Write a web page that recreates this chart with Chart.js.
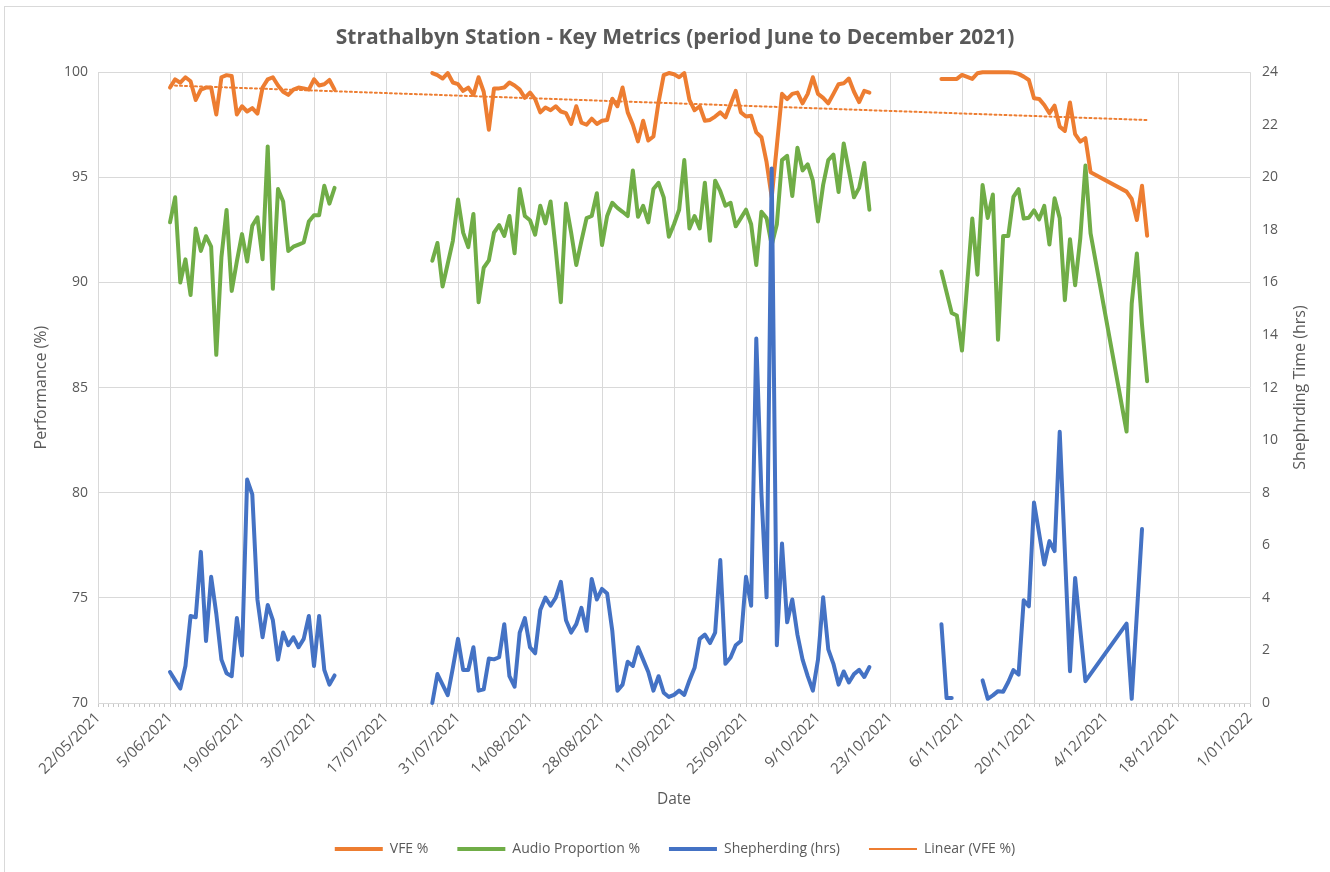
<!DOCTYPE html>
<html>
<head>
<meta charset="utf-8">
<title>Strathalbyn Station - Key Metrics</title>
<script src="https://cdn.jsdelivr.net/npm/chart.js@4.4.1/dist/chart.umd.min.js"></script>
<style>
  html, body { margin: 0; padding: 0; background: #fff; overflow: hidden; }
  #wrap { position: relative; width: 1330px; height: 872px; }
  #frame { position: absolute; left: 4px; top: 6px; width: 1340px; height: 900px;
           border: 1px solid #d9d9d9; pointer-events: none; }
</style>
</head>
<body>
<div id="wrap">
  <canvas id="chart" width="1330" height="872"></canvas>
  <div id="frame"></div>
</div>
<script>
// Strathalbyn Station - key metrics, June to December 2021
// x values are days counted from 22/05/2021 (first axis tick)

const START_UTC = Date.UTC(2021, 4, 22);
const X_MIN = 0;     // 22/05/2021
const X_MAX = 224;   // 1/01/2022
const MAJOR_STEP = 14;

// dates with VFE / audio readings (null rows = blank cells, break the line)
const perfDays = [
  14, 15, 16, 17, 18, 19, 20, 21, 22, 23, 24, 25, 26, 27, 28, 29, 30,
  31, 32, 33, 34, 35, 36, 37, 38, 39, 40, 41, 42, 43, 44, 45, 46,
  55,
  65, 66, 67, 68, 69, 70, 71, 72, 73, 74, 75, 76, 77, 78, 79, 80, 81,
  82, 83, 84, 85, 86, 87, 88, 89, 90, 91, 92, 93, 94, 95, 96, 97, 98,
  99, 100, 101, 102, 103, 104, 105, 106, 107, 108, 109, 110, 111, 112,
  113, 114, 115, 116, 117, 118, 119, 120, 121, 122, 123, 124, 125, 126,
  127, 128, 129, 130, 131, 132, 133, 134, 135, 136, 137, 138, 139, 140,
  141, 142, 143, 144, 145, 146, 147, 148, 149, 150,
  157,
  164, 166, 167, 168, 170, 171, 172, 173, 174, 175, 176, 177, 178, 179,
  180, 181, 182, 183, 184, 185, 186, 187, 188, 189, 190, 191, 192, 193,
  200, 201, 202, 203, 204,
];

const vfePct = [
  99.27, 99.66, 99.5, 99.76, 99.57, 98.68, 99.17, 99.27, 99.27, 97.99, 99.76,
  99.86, 99.82, 97.99, 98.38, 98.13, 98.29, 98.03, 99.27, 99.66, 99.76, 99.37,
  99.07, 98.92, 99.17, 99.27, 99.23, 99.17, 99.66, 99.37, 99.43, 99.63, 99.17,
  null,
  99.96, 99.86, 99.7, 99.96, 99.51, 99.43, 99.11, 99.27, 98.92, 99.76, 99.07,
  97.26, 99.23, 99.23, 99.27, 99.51, 99.37, 99.17, 98.78, 99.03, 98.72, 98.09,
  98.32, 98.19, 98.38, 98.13, 98.05, 97.54, 98.38, 97.6, 97.5, 97.79, 97.54,
  97.69,
  97.73, 98.74, 98.38, 99.27, 98.09, 97.5, 96.71, 97.69, 96.75, 96.94, 98.58,
  99.86, 99.96, 99.9, 99.76, 99.96, 98.68, 98.19, 98.38, 97.69, 97.73, 97.89,
  98.09, 97.85, 98.48, 99.11, 98.09, 97.89, 97.93, 97.14, 96.91, 95.72, 94.05,
  96.5, 98.97, 98.72, 98.97, 99.03, 98.52, 98.97, 99.76, 98.97, 98.78, 98.52,
  98.97, 99.43, 99.47, 99.7, 99.07, 98.58, 99.11, 99.03,
  null,
  99.68, 99.68, 99.68, 99.87, 99.68, 99.95, 100, 100, 100, 100, 100, 100,
  99.98, 99.92, 99.79, 99.63, 98.76, 98.73, 98.44, 98.05, 98.41, 97.41, 97.21,
  98.56, 97.05, 96.7, 96.86, 95.24, 94.32, 93.97, 92.97, 94.6, 92.22,
];

const audioPct = [
  92.86, 94.05, 90.0, 91.1, 89.4, 92.57, 91.5, 92.2, 91.7, 86.56, 91.2,
  93.45, 89.6, 91.0, 92.3, 91.0, 92.7, 93.1, 91.1, 96.47, 89.7, 94.44,
  93.85, 91.5, 91.7, 91.8, 91.9, 92.9, 93.2, 93.2, 94.6, 93.75, 94.5,
  null,
  91.03, 91.88, 89.81, 90.89, 91.98, 93.95, 92.37, 91.68, 93.26, 89.06, 90.7,
  91.05, 92.37, 92.73, 92.21, 93.16, 91.39, 94.44, 93.16, 92.96, 92.27, 93.65,
  92.81, 93.85, 91.58, 89.06, 93.75, 92.37, 90.83, 91.98, 93.06, 93.16, 94.24,
  91.78,
  93.16, 93.79, 93.55, 93.36, 93.16, 95.33, 93.12, 93.65, 92.86, 94.44, 94.74,
  94.05, 92.17, 92.77, 93.46, 95.82, 92.57, 93.16, 92.57, 94.74, 91.98, 94.84,
  94.34, 93.65, 93.79, 92.67, 93.06, 93.46, 92.77, 90.83, 93.36, 93.06, 91.78,
  92.77, 95.82, 96.02, 94.11, 96.41, 95.33, 95.62, 94.84, 92.9, 94.64, 95.82,
  96.08, 94.3, 96.61, 95.33, 94.05, 94.5, 95.68, 93.46,
  null,
  90.52, 88.55, 88.43, 86.76, 93.04, 90.37, 94.63, 93.07, 94.18, 87.28, 92.21,
  92.21, 94.07, 94.44, 93.04, 93.08, 93.43, 93.0, 93.64, 91.81, 94.0, 93.05,
  89.16, 92.06, 89.87, 92.1, 95.56, 92.33, 82.91, 89.0, 91.38, 88.0, 85.3,
];

// dates with shepherding readings
const shepDays = [
  14, 15, 16, 17, 18, 19, 20, 21, 22, 23, 24, 25, 26, 27, 28, 29, 30,
  31, 32, 33, 34, 35, 36, 37, 38, 39, 40, 41, 42, 43, 44, 45, 46,
  55,
  65, 66, 67, 68, 69, 70, 71, 72, 73, 74, 75, 76, 77, 78, 79, 80, 81,
  82, 83, 84, 85, 86, 87, 88, 89, 90, 91, 92, 93, 94, 95, 96, 97, 98,
  99, 100, 101, 102, 103, 104, 105, 106, 107, 108, 109, 110, 111, 112,
  113, 114, 115, 116, 117, 118, 119, 120, 121, 122, 123, 124, 125, 126,
  127, 128, 129, 130, 131, 132, 133, 134, 135, 136, 137, 138, 139, 140,
  141, 142, 143, 144, 145, 146, 147, 148, 149, 150,
  157,
  164, 165, 166,
  169,
  172, 173, 174, 175, 176, 177, 178, 179, 180, 181, 182, 184, 185, 186,
  187, 189, 190, 192, 200, 201, 203,
];

const shepHrs = [
  1.18, 0.86, 0.55, 1.41, 3.31, 3.26, 5.75, 2.36, 4.8, 3.4, 1.65, 1.13, 1.02,
  3.23, 1.81, 8.5, 7.94, 3.94, 2.5, 3.73, 3.15, 1.65, 2.68, 2.2, 2.5, 2.12,
  2.44, 3.31, 1.41, 3.31, 1.26, 0.7, 1.05,
  null,
  0.0, 1.1, 0.7, 0.3, 1.34, 2.44, 1.26, 1.26, 2.12, 0.47, 0.52, 1.69, 1.66,
  1.74, 3.0, 1.02, 0.62, 2.68, 3.23, 2.12, 1.89, 3.54, 4.01, 3.7, 4.01, 4.61,
  3.15, 2.68, 3.0, 3.62, 2.75, 4.72, 3.94, 4.34,
  4.17, 2.75, 0.47, 0.7, 1.57, 1.41, 2.12, 1.65, 1.18, 0.47, 1.02, 0.39, 0.23,
  0.31, 0.47, 0.31, 0.86, 1.34, 2.44, 2.6, 2.28, 2.68, 5.44, 1.49, 1.73, 2.2,
  2.36, 4.8, 3.7, 13.87, 7.96, 4.02, 20.34, 2.2, 6.07, 3.07, 3.94, 2.6, 1.65,
  1.02, 0.47, 1.65, 4.02, 2.04, 1.49, 0.7, 1.2, 0.78, 1.1, 1.26, 0.99, 1.37,
  null,
  3.0, 0.19, 0.19,
  null,
  0.86, 0.16, 0.29, 0.45, 0.43, 0.8, 1.25, 1.08, 3.91, 3.68, 7.63, 5.27, 6.16,
  5.78, 10.32, 1.21, 4.76, 0.83, 3.02, 0.16, 6.62,
];

const TEXT = "#595959";
const GRID = "#d9d9d9";
const ORANGE = "#ED7D31";
const GREEN = "#70AD47";
const BLUE = "#4472C4";

function toPoints(days, values) {
  return days.map((d, i) => ({ x: d, y: values[i] }));
}

function formatDay(d) {
  const dt = new Date(START_UTC + d * 86400000);
  const mm = String(dt.getUTCMonth() + 1).padStart(2, "0");
  return dt.getUTCDate() + "/" + mm + "/" + dt.getUTCFullYear();
}

// Least-squares trend over the VFE readings (Excel "Linear" trendline)
function linearTrend(days, values) {
  const xs = [];
  const ys = [];
  days.forEach((d, i) => {
    if (values[i] !== null) {
      xs.push(d);
      ys.push(values[i]);
    }
  });
  const n = xs.length;
  const mx = xs.reduce((a, b) => a + b, 0) / n;
  const my = ys.reduce((a, b) => a + b, 0) / n;
  let num = 0;
  let den = 0;
  for (let i = 0; i < n; i++) {
    num += (xs[i] - mx) * (ys[i] - my);
    den += (xs[i] - mx) * (xs[i] - mx);
  }
  const slope = num / den;
  const icpt = my - slope * mx;
  const x0 = xs[0];
  const x1 = xs[n - 1];
  return [
    { x: x0, y: icpt + slope * x0 },
    { x: x1, y: icpt + slope * x1 },
  ];
}

// right axis title reads bottom-to-top like the left one
const rightTitle = {
  id: "rightTitle",
  afterDraw(chart) {
    const { ctx, chartArea } = chart;
    const sc = chart.scales.yHrs;
    ctx.save();
    ctx.translate(sc.right - 20, (chartArea.top + chartArea.bottom) / 2);
    ctx.rotate(-Math.PI / 2);
    ctx.font = '16px "Open Sans"';
    ctx.fillStyle = TEXT;
    ctx.textAlign = "center";
    ctx.textBaseline = "middle";
    ctx.fillText("Shephrding Time (hrs)", 0, 0);
    ctx.restore();
  },
};

Chart.defaults.font.family = '"Open Sans", sans-serif';
Chart.defaults.color = TEXT;

new Chart(document.getElementById("chart"), {
  type: "line",
  data: {
    datasets: [
      {
        label: "VFE %",
        data: toPoints(perfDays, vfePct),
        yAxisID: "yPct",
        borderColor: ORANGE,
        backgroundColor: ORANGE,
        borderWidth: 4,
        order: 3,
      },
      {
        label: "Audio Proportion %",
        data: toPoints(perfDays, audioPct),
        yAxisID: "yPct",
        borderColor: GREEN,
        backgroundColor: GREEN,
        borderWidth: 4,
        order: 2,
      },
      {
        label: "Shepherding (hrs)",
        data: toPoints(shepDays, shepHrs),
        yAxisID: "yHrs",
        borderColor: BLUE,
        backgroundColor: BLUE,
        borderWidth: 4,
        order: 1,
      },
      {
        label: "Linear (VFE %)",
        data: linearTrend(perfDays, vfePct),
        yAxisID: "yPct",
        borderColor: ORANGE,
        backgroundColor: ORANGE,
        borderWidth: 2,
        borderDash: [2, 3],
        order: 0,
      },
    ],
  },
  options: {
    responsive: false,
    devicePixelRatio: 1,
    animation: false,
    spanGaps: false,
    elements: {
      point: { radius: 0, hoverRadius: 0 },
      line: { tension: 0, borderJoinStyle: "round", borderCapStyle: "round" },
    },
    datasets: { line: { clip: false } },
    layout: { padding: { left: 30, right: 10, top: 0, bottom: 6 } },
    plugins: {
      title: {
        display: true,
        text: "Strathalbyn Station - Key Metrics (period June to December 2021)",
        color: TEXT,
        font: { size: 21, weight: "bold" },
        padding: { top: 25, bottom: 22 },
      },
      legend: {
        position: "bottom",
        labels: {
          usePointStyle: true,
          pointStyle: "line",
          pointStyleWidth: 48,
          padding: 29,
          color: TEXT,
          font: { size: 14 },
          sort: (a, b) => a.datasetIndex - b.datasetIndex,
        },
      },
      tooltip: { enabled: false },
    },
    scales: {
      x: {
        type: "linear",
        min: X_MIN,
        max: X_MAX,
        afterFit: (s) => { s.height = 110; },
        ticks: {
          stepSize: 1,
          autoSkip: false,
          minRotation: 45,
          maxRotation: 45,
          padding: 2,
          color: TEXT,
          font: { size: 15 },
          callback: (v) => (v % MAJOR_STEP === 0 ? formatDay(v) : ""),
        },
        grid: {
          color: (c) => (c.tick && c.tick.value % MAJOR_STEP === 0 ? GRID : "rgba(0,0,0,0)"),
          tickColor: "#c8c8c8",
          tickLength: 4,
          drawTicks: true,
        },
        border: { display: true, color: GRID },
        title: {
          display: true,
          text: "Date",
          color: TEXT,
          font: { size: 15.5 },
          padding: { top: 4, bottom: 4 },
        },
      },
      yPct: {
        type: "linear",
        position: "left",
        min: 70,
        max: 100,
        afterFit: (s) => { s.width = 68; },
        ticks: { stepSize: 5, padding: 10, color: TEXT, font: { size: 14 } },
        grid: { color: GRID, drawTicks: false },
        border: { display: false },
        title: {
          display: true,
          text: "Performance (%)",
          color: TEXT,
          font: { size: 16 },
          padding: { top: 2, bottom: 4 },
        },
      },
      yHrs: {
        type: "linear",
        position: "right",
        min: 0,
        max: 24,
        afterFit: (s) => { s.width = 70; },
        ticks: { stepSize: 2, padding: 12, color: TEXT, font: { size: 14 } },
        grid: { drawOnChartArea: false, drawTicks: false },
        border: { display: false },
      },
    },
  },
  plugins: [rightTitle],
});
</script>
</body>
</html>
